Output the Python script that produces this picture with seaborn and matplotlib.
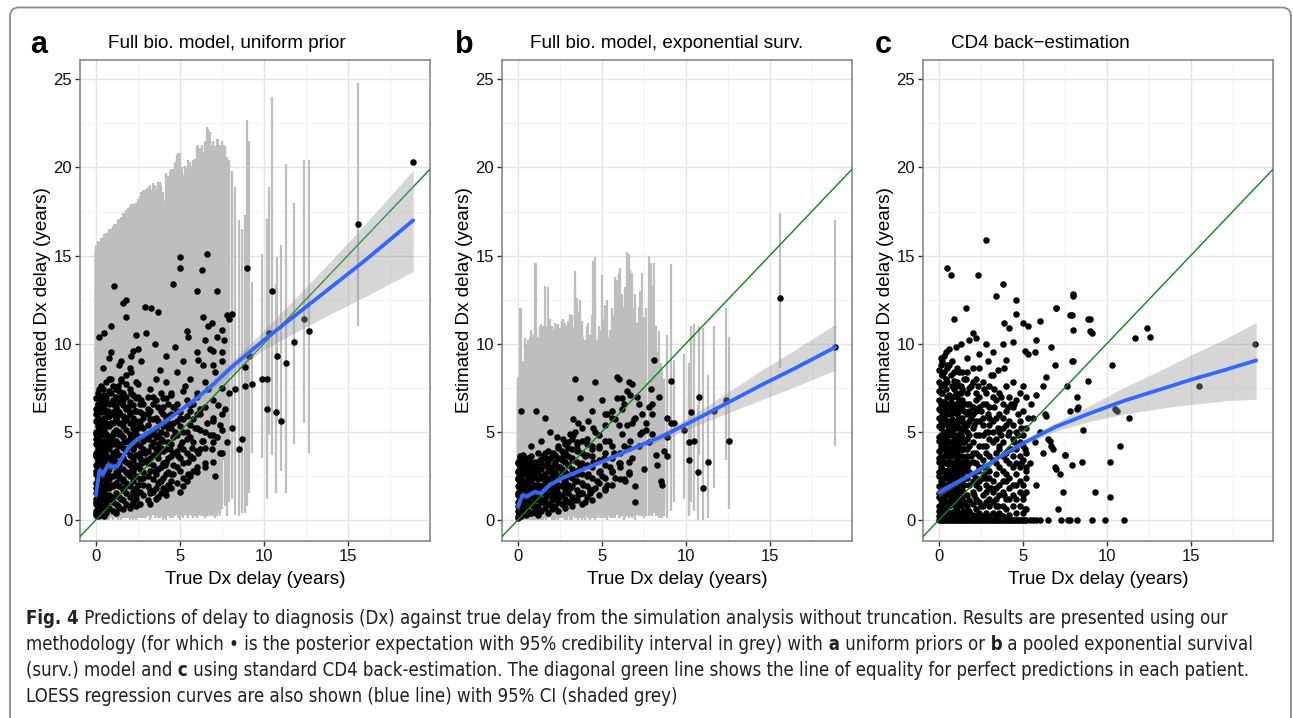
import numpy as np
import matplotlib
matplotlib.use("Agg")
import matplotlib.pyplot as plt
import seaborn as sns
from matplotlib import font_manager as fm
from matplotlib.patches import FancyBboxPatch

# ---------------- data (in tenths of a year) ----------------
# Panel a: Full bio. model, uniform prior  (true delay, posterior expectation, 95% CrI low/high)
A_X = [0, 0, 0, 1, 1, 1, 2, 2, 0, 1,
       0, 0, 1, 1, 2, 2, 3, 3, 0, 2,
       3, 3, 4, 4, 4, 5, 5, 5, 6, 6,
       4, 5, 6, 6, 7, 7, 7, 8, 8, 9,
       9, 9, 10, 10, 10, 11, 11, 12, 12, 13,
       13, 13, 14, 14, 15, 15, 16, 16, 17, 17,
       18, 18, 19, 19, 20, 20, 21, 21, 22, 22,
       23, 23, 24, 24, 25, 25, 26, 27, 28, 29,
       30, 31, 32, 33, 34, 35, 36, 37, 38, 38,
       39, 40, 41, 42, 43, 44, 45, 46, 47, 48,
       49, 50, 51, 52, 53, 54, 55, 56, 57, 58,
       59, 60, 61, 62, 63, 64, 65, 66, 67, 68,
       69, 70, 71, 72, 73, 74, 75, 77, 79, 81,
       2, 5, 9, 16, 18, 18, 11, 29, 24, 33,
       37, 30, 46, 50, 50, 54, 60, 63, 66, 72,
       8, 14, 22, 27, 35, 42, 47, 55, 61, 68,
       64, 69, 72, 75, 78, 79, 81, 76, 70, 67,
       40, 45, 50, 55, 60, 64, 70, 71, 74, 78,
       83, 85, 87, 89, 89, 90, 91, 93, 99, 102,
       102, 103, 105, 107, 108, 110, 113, 118, 124, 127,
       156, 189, 0, 1, 3, 6, 8, 12, 15, 20,
       0, 1, 2, 3, 4, 5, 6, 7, 8, 9,
       10, 11, 12, 13, 14, 15, 16, 17, 18, 19,
       20, 21, 22, 23, 24, 25, 26, 27, 28, 29,
       0, 0, 1, 2, 3, 4, 5, 7, 9, 11]
A_Y = [3, 10, 18, 6, 14, 24, 9, 17, 28, 33,
       38, 46, 42, 55, 50, 62, 45, 70, 60, 74,
       8, 20, 12, 27, 36, 16, 31, 58, 22, 40,
       52, 66, 48, 78, 6, 26, 62, 14, 44, 32,
       55, 72, 10, 38, 66, 20, 50, 30, 58, 8,
       42, 76, 24, 60, 12, 48, 34, 68, 18, 56,
       40, 82, 26, 64, 8, 46, 36, 72, 16, 54,
       30, 62, 44, 78, 20, 52, 38, 68, 24, 48,
       34, 60, 15, 42, 70, 28, 52, 38, 85, 22,
       46, 64, 31, 17, 55, 40, 72, 26, 50, 62,
       36, 58, 44, 24, 76, 50, 33, 65, 41, 28,
       52, 70, 38, 60, 45, 88, 32, 55, 74, 48,
       40, 58, 84, 47, 65, 54, 95, 63, 72, 52,
       104, 106, 110, 123, 115, 125, 133, 121, 105, 120,
       118, 106, 134, 149, 143, 107, 130, 142, 151, 130,
       92, 88, 96, 90, 100, 93, 98, 104, 91, 97,
       115, 112, 104, 108, 116, 114, 117, 102, 96, 110,
       18, 22, 16, 26, 30, 45, 48, 25, 38, 44,
       74, 40, 46, 76, 87, 143, 93, 77, 80, 80,
       63, 106, 130, 61, 93, 56, 89, 101, 114, 107,
       168, 203, 50, 66, 64, 70, 80, 74, 80, 86,
       5, 27, 40, 55, 19, 42, 11, 35, 59, 20,
       48, 35, 64, 28, 50, 70, 22, 44, 58, 32,
       60, 28, 40, 50, 14, 70, 56, 32, 60, 38,
       12, 36, 64, 4, 52, 68, 2, 40, 46, 60]
A_LO = [0, 0, 0, 0, 0, 1, 0, 0, 1, 2,
        1, 1, 1, 2, 1, 2, 1, 3, 2, 3,
        0, 0, 0, 1, 1, 0, 1, 2, 1, 1,
        2, 3, 2, 3, 0, 1, 2, 0, 1, 1,
        2, 3, 0, 1, 2, 1, 2, 1, 2, 0,
        1, 3, 1, 2, 0, 2, 1, 3, 1, 2,
        1, 3, 1, 2, 0, 2, 1, 3, 0, 2,
        1, 2, 1, 3, 1, 2, 1, 2, 1, 2,
        1, 2, 0, 1, 3, 1, 2, 1, 3, 1,
        2, 2, 1, 0, 2, 1, 3, 1, 2, 3,
        1, 2, 2, 1, 3, 2, 1, 3, 2, 1,
        2, 3, 2, 3, 2, 4, 1, 2, 3, 2,
        3, 3, 5, 2, 4, 3, 6, 8, 10, 12,
        30, 32, 35, 45, 40, 45, 50, 42, 35, 40,
        40, 36, 48, 55, 52, 35, 45, 50, 60, 48,
        20, 18, 22, 20, 25, 22, 24, 28, 20, 24,
        40, 38, 35, 36, 42, 40, 45, 34, 30, 36,
        0, 1, 0, 1, 1, 2, 2, 1, 2, 2,
        3, 2, 4, 4, 10, 8, 15, 38, 35, 24,
        12, 48, 37, 15, 56, 28, 15, 43, 55, 38,
        110, 203, 2, 3, 3, 3, 4, 3, 4, 4,
        0, 1, 1, 2, 0, 1, 0, 1, 2, 1,
        1, 1, 2, 1, 1, 3, 1, 1, 2, 1,
        2, 1, 1, 2, 0, 3, 2, 1, 2, 1,
        0, 1, 2, 0, 1, 2, 0, 1, 1, 2]
A_HI = [132, 154, 150, 152, 155, 153, 150, 156, 154, 155,
        155, 154, 156, 158, 155, 157, 156, 158, 156, 157,
        155, 158, 157, 159, 160, 158, 160, 161, 160, 161,
        160, 161, 162, 162, 161, 162, 163, 162, 163, 164,
        164, 165, 164, 166, 167, 166, 167, 168, 168, 168,
        169, 170, 171, 170, 172, 171, 173, 172, 173, 174,
        175, 176, 176, 177, 177, 178, 178, 179, 178, 179,
        178, 179, 180, 179, 181, 182, 184, 186, 187, 187,
        188, 189, 190, 187, 191, 189, 188, 190, 192, 191,
        190, 186, 181, 183, 195, 198, 199, 199, 203, 207,
        208, 160, 200, 196, 201, 199, 201, 203, 201, 204,
        205, 210, 213, 211, 210, 209, 215, 218, 222, 220,
        210, 207, 212, 208, 216, 213, 215, 212, 204, 195,
        154, 162, 165, 174, 176, 176, 168, 186, 180, 187,
        192, 188, 196, 208, 205, 199, 212, 213, 223, 216,
        164, 171, 179, 184, 190, 197, 202, 204, 208, 212,
        209, 212, 208, 214, 206, 204, 198, 213, 211, 218,
        184, 190, 196, 198, 203, 206, 215, 210, 212, 206,
        189, 170, 165, 173, 168, 227, 215, 135, 151, 171,
        130, 189, 240, 134, 149, 156, 202, 180, 204, 204,
        248, 203, 153, 156, 160, 163, 165, 168, 172, 178,
        150, 152, 156, 158, 159, 160, 161, 162, 163, 164,
        165, 166, 167, 168, 170, 171, 172, 173, 174, 175,
        176, 177, 178, 179, 180, 181, 182, 183, 185, 186,
        148, 153, 155, 151, 156, 158, 157, 162, 164, 166]
# further panel-a points inside the dense core (their intervals are hidden in the grey curtain):
# true delay (tenths) -> estimates (tenths) at that delay
A_CORE_X = [0, 1, 2, 3, 5, 6, 8, 10, 12, 14, 16, 18, 20, 22, 24, 26, 28, 31, 34, 37, 40, 43, 46, 50, 54, 58, 62,
            4, 9, 15, 21, 25, 32, 36, 39, 42, 45, 48, 52, 56, 60, 65, 70, 75]
A_CORE_Y = [[4, 9, 15, 21, 26, 31, 37, 43, 49, 56, 63, 69],
            [2, 7, 12, 19, 23, 29, 34, 40, 47, 53, 58, 65, 72],
            [5, 11, 16, 22, 27, 32, 39, 45, 51, 57, 64, 70],
            [3, 8, 14, 19, 25, 30, 36, 42, 48, 54, 61, 67, 76],
            [6, 11, 17, 23, 28, 34, 39, 45, 51, 57, 63, 71],
            [4, 9, 14, 20, 25, 31, 37, 43, 49, 55, 61, 68],
            [7, 12, 18, 23, 29, 35, 41, 47, 53, 59, 66, 73],
            [5, 13, 19, 25, 31, 36, 43, 49, 55, 61, 68, 76],
            [4, 9, 15, 21, 27, 33, 39, 45, 51, 57, 63, 70],
            [7, 13, 19, 25, 31, 37, 43, 49, 55, 61, 67, 73],
            [6, 11, 17, 23, 29, 35, 41, 47, 53, 59, 65, 72],
            [9, 15, 21, 27, 33, 39, 45, 51, 57, 63, 70, 77],
            [7, 13, 19, 25, 31, 37, 43, 49, 55, 61, 67, 74],
            [10, 16, 22, 28, 34, 40, 46, 52, 58, 65, 71],
            [8, 12, 18, 25, 31, 37, 43, 49, 56, 62, 69],
            [9, 16, 23, 29, 35, 42, 47, 54, 61, 66],
            [14, 20, 27, 33, 40, 45, 52, 58, 66],
            [11, 19, 25, 32, 39, 46, 54, 63, 70],
            [16, 23, 31, 37, 44, 50, 57, 66],
            [13, 21, 29, 35, 43, 48, 56, 64],
            [24, 32, 39, 45, 53, 60, 69],
            [20, 27, 35, 44, 52, 59, 66],
            [31, 38, 47, 55, 64],
            [28, 35, 42, 53, 61],
            [22, 38, 46, 59, 68],
            [35, 44, 57, 66],
            [40, 51, 63],
            [74, 86],
            [80, 95],
            [79, 90],
            [84, 93],
            [77, 97],
            [9, 17, 28, 35, 48, 57, 62, 74],
            [12, 18, 26, 40, 47, 58, 68, 80],
            [15, 22, 30, 41, 50, 62, 72],
            [14, 26, 33, 40, 49, 57, 69, 78],
            [18, 26, 36, 43, 52, 60, 71],
            [21, 30, 39, 48, 56, 66, 84],
            [19, 32, 40, 50, 57, 73, 90],
            [25, 36, 47, 54, 62, 80],
            [27, 39, 52, 60, 72, 95],
            [30, 41, 50, 64, 78, 102],
            [33, 44, 56, 68, 88],
            [38, 51, 60, 75, 90]]

# Panel b: Full bio. model, exponential surv.
B_X = [0, 0, 0, 0, 1, 1, 1, 2, 2, 3,
       0, 1, 2, 3, 3, 4, 4, 5, 5, 6,
       6, 7, 7, 8, 8, 9, 9, 10, 11, 12,
       12, 13, 13, 14, 15, 15, 16, 17, 18, 19,
       20, 20, 21, 22, 22, 23, 24, 24, 25, 26,
       27, 28, 29, 30, 31, 32, 33, 34, 35, 36,
       37, 38, 39, 40, 41, 42, 43, 44, 45, 46,
       47, 48, 49, 50, 51, 52, 53, 54, 55, 56,
       57, 58, 59, 60, 61, 62, 63, 64, 65, 66,
       67, 68, 69, 70, 71, 72, 73, 75, 76, 78,
       79, 80, 80, 81, 82, 83, 84, 85, 86, 87,
       89, 89, 89, 91, 91, 93, 99, 102, 102, 103,
       105, 107, 108, 110, 113, 117, 124, 126, 156, 189,
       2, 11, 16, 19, 8, 14, 23, 27, 31, 35,
       0, 1, 3, 4, 6, 9, 11, 14, 17, 21,
       10, 13, 16, 19, 23, 26, 29, 32, 35, 38,
       40, 43, 46, 50, 53, 56, 60, 63, 66, 70,
       34, 36, 42, 45, 48, 52, 58, 62, 68, 74,
       59, 60, 63, 65, 67, 68, 72, 74, 76, 78,
       34, 46, 37, 33, 44, 52, 56, 62, 70, 80]
B_Y = [2, 8, 15, 24, 5, 12, 20, 28, 10, 18,
       32, 36, 30, 6, 26, 14, 34, 9, 22, 30,
       12, 4, 26, 18, 33, 8, 24, 14, 30, 20,
       6, 16, 32, 25, 10, 36, 22, 14, 30, 19,
       8, 28, 38, 16, 33, 24, 12, 42, 30, 20,
       36, 10, 26, 44, 18, 34, 48, 22, 40, 14,
       30, 52, 20, 36, 46, 26, 17, 40, 33, 50,
       22, 42, 28, 68, 35, 18, 60, 45, 30, 62,
       38, 24, 81, 54, 32, 69, 42, 22, 54, 78,
       45, 35, 57, 10, 70, 42, 49, 29, 51, 44,
       74, 66, 49, 91, 37, 31, 70, 22, 20, 39,
       36, 47, 58, 79, 55, 55, 51, 44, 34, 61,
       45, 27, 70, 18, 33, 62, 68, 45, 126, 98,
       62, 62, 58, 50, 42, 45, 47, 46, 49, 43,
       27, 31, 14, 28, 35, 29, 4, 11, 24, 13,
       26, 34, 38, 35, 18, 28, 16, 10, 26, 15,
       10, 15, 18, 25, 20, 28, 32, 23, 27, 19,
       50, 55, 56, 52, 48, 54, 57, 49, 55, 50,
       69, 80, 66, 73, 71, 77, 66, 60, 55, 64,
       80, 78, 69, 57, 62, 60, 58, 63, 58, 60]
B_LO = [0, 0, 0, 1, 0, 0, 1, 1, 0, 0,
        1, 1, 1, 0, 1, 0, 1, 0, 1, 1,
        0, 0, 1, 0, 1, 0, 1, 0, 1, 1,
        0, 0, 1, 1, 0, 1, 1, 0, 1, 1,
        0, 1, 1, 0, 1, 1, 0, 2, 1, 1,
        1, 0, 1, 2, 0, 1, 2, 1, 2, 0,
        1, 2, 1, 1, 2, 1, 0, 1, 1, 2,
        1, 2, 1, 3, 1, 1, 2, 2, 1, 2,
        1, 1, 3, 2, 1, 3, 2, 1, 2, 3,
        2, 1, 2, 0, 3, 2, 2, 1, 2, 2,
        3, 2, 2, 4, 2, 2, 1, 1, 1, 2,
        4, 1, 10, 15, 5, 10, 12, 3, 2, 10,
        5, 0, 37, 0, 1, 18, 34, 6, 86, 42,
        20, 18, 16, 15, 10, 12, 14, 13, 15, 12,
        1, 1, 0, 1, 1, 1, 0, 0, 1, 0,
        1, 1, 2, 1, 1, 1, 0, 0, 1, 0,
        0, 0, 0, 1, 0, 1, 1, 0, 1, 0,
        2, 2, 2, 2, 2, 2, 3, 2, 3, 2,
        3, 4, 3, 3, 4, 4, 3, 2, 2, 3,
        10, 8, 5, 3, 4, 5, 4, 5, 5, 6]
B_HI = [52, 70, 75, 78, 74, 80, 120, 82, 86, 85,
        80, 84, 89, 90, 87, 92, 103, 95, 100, 102,
        98, 104, 99, 101, 106, 103, 105, 146, 108, 104,
        100, 105, 108, 103, 107, 110, 104, 109, 132, 106,
        108, 110, 104, 109, 112, 104, 106, 111, 109, 113,
        114, 112, 110, 113, 115, 116, 109, 133, 110, 112,
        119, 108, 104, 102, 110, 104, 105, 112, 108, 149,
        102, 104, 108, 139, 114, 118, 125, 104, 108, 113,
        116, 115, 136, 140, 143, 118, 112, 132, 125, 151,
        142, 123, 120, 115, 112, 102, 130, 115, 120, 124,
        146, 126, 130, 146, 110, 95, 107, 89, 85, 80,
        75, 105, 90, 145, 83, 91, 94, 89, 70, 110,
        111, 65, 110, 109, 82, 110, 120, 104, 174, 170,
        120, 146, 133, 114, 108, 111, 110, 114, 117, 126,
        81, 84, 88, 93, 97, 103, 102, 106, 110, 108,
        105, 110, 104, 108, 111, 113, 108, 110, 106, 113,
        98, 105, 110, 112, 104, 108, 115, 99, 110, 96,
        106, 118, 112, 147, 110, 113, 138, 128, 135, 118,
        120, 139, 121, 152, 118, 140, 121, 140, 113, 150,
        141, 130, 125, 109, 116, 122, 120, 126, 128, 133]
B_CORE_X = [0, 1, 2, 3, 5, 6, 8, 10, 12, 14, 16, 18, 20, 22, 24, 26, 28, 30, 32, 35, 38, 41, 44, 48, 52, 56, 61, 66]
B_CORE_Y = [[1, 5, 10, 14, 19, 23, 28, 33],
            [3, 7, 12, 17, 21, 26, 30, 35],
            [2, 6, 11, 15, 20, 25, 29, 34],
            [4, 9, 13, 18, 22, 27, 32, 37],
            [3, 7, 12, 16, 21, 26, 31],
            [5, 10, 15, 19, 24, 28, 33],
            [4, 9, 13, 17, 22, 27, 31, 36],
            [6, 11, 16, 20, 25, 29, 33],
            [3, 8, 13, 18, 23, 28, 32, 38],
            [5, 10, 15, 19, 24, 29, 34],
            [7, 12, 17, 21, 26, 31, 35],
            [4, 9, 14, 18, 23, 28, 33, 39],
            [6, 11, 16, 21, 25, 30, 36],
            [8, 13, 18, 23, 27, 32, 37],
            [5, 10, 15, 20, 25, 30, 35, 41],
            [9, 14, 19, 24, 29, 34, 39],
            [7, 12, 17, 22, 27, 33, 38, 43],
            [10, 15, 20, 25, 31, 36, 41],
            [8, 13, 19, 24, 29, 35, 40, 46],
            [11, 17, 22, 28, 33, 39, 44],
            [9, 15, 21, 26, 32, 38, 45],
            [13, 19, 25, 31, 37, 43],
            [11, 17, 24, 30, 36, 42],
            [14, 21, 27, 34, 41],
            [17, 24, 31, 38, 45],
            [20, 27, 35, 42],
            [23, 30, 38],
            [26, 33, 41]]

# Panel c: CD4 back-estimation (true delay, estimate)
C_X = [0, 0, 0, 0, 0, 1, 1, 1, 1, 1,
       0, 0, 1, 2, 2, 2, 2, 3, 3, 3,
       3, 3, 4, 4, 4, 4, 5, 5, 5, 5,
       6, 6, 6, 7, 7, 7, 8, 8, 8, 9,
       9, 9, 10, 10, 10, 11, 11, 12, 12, 13,
       13, 14, 14, 15, 15, 16, 16, 17, 18, 19,
       20, 20, 21, 22, 22, 23, 24, 25, 26, 27,
       28, 29, 30, 30, 31, 32, 33, 34, 35, 36,
       37, 38, 38, 39, 40, 41, 42, 43, 44, 44,
       45, 46, 47, 48, 49, 50, 50, 51, 52, 53,
       54, 56, 57, 58, 60, 62, 63, 65, 67, 69,
       0, 3, 6, 9, 12, 15, 18, 21, 24, 27,
       30, 33, 36, 39, 42, 45, 48, 51, 54, 60,
       65, 73, 77, 78, 82, 91, 99, 110, 188, 155,
       126, 124, 117, 113, 108, 106, 105, 103, 102, 102,
       93, 90, 89, 89, 86, 85, 80, 80, 80, 78,
       82, 83, 76, 78, 74, 71, 70, 75, 79, 79,
       28, 5, 7, 23, 38, 34, 46, 80, 16, 46,
       70, 79, 90, 9, 39, 42, 50, 53, 60, 91,
       1, 4, 6, 10, 13, 18, 20, 22, 28, 32,
       2, 5, 8, 11, 14, 17, 19, 24, 29, 35,
       38, 40, 44, 51, 53, 57, 58, 64, 67, 69,
       55, 58, 62, 64, 66, 68, 70, 72, 75, 82,
       0, 1, 2, 3, 4, 6, 8, 10, 12, 14,
       15, 17, 19, 21, 23, 25, 27, 29, 31, 33,
       35, 37, 39, 41, 43, 45, 47, 49, 51, 52]
C_Y = [5, 15, 25, 35, 45, 8, 18, 30, 40, 52,
       58, 68, 62, 12, 24, 44, 72, 6, 20, 36,
       50, 64, 10, 28, 46, 80, 16, 32, 54, 70,
       4, 26, 48, 12, 38, 60, 20, 44, 76, 30,
       54, 84, 8, 36, 66, 22, 48, 14, 58, 40,
       72, 26, 52, 10, 62, 34, 80, 46, 20, 58,
       38, 86, 14, 48, 68, 28, 56, 8, 42, 74,
       24, 60, 12, 46, 82, 34, 64, 18, 52, 40,
       70, 22, 58, 86, 34, 48, 12, 66, 30, 78,
       44, 20, 60, 36, 52, 14, 76, 40, 28, 58,
       32, 58, 44, 20, 50, 38, 60, 46, 42, 30,
       0, 0, 0, 0, 0, 0, 0, 0, 0, 0,
       0, 0, 0, 0, 0, 0, 0, 0, 0, 0,
       0, 0, 0, 0, 0, 0, 0, 0, 100, 76,
       104, 109, 103, 58, 42, 62, 63, 88, 33, 13,
       16, 107, 114, 79, 51, 33, 128, 108, 90, 116,
       70, 64, 76, 62, 16, 6, 120, 37, 31, 90,
       159, 143, 139, 139, 134, 127, 125, 127, 120, 117,
       120, 116, 114, 114, 112, 109, 112, 110, 113, 106,
       92, 95, 97, 98, 100, 102, 106, 103, 100, 95,
       82, 88, 90, 86, 84, 92, 76, 94, 90, 85,
       100, 91, 101, 96, 94, 95, 102, 81, 98, 88,
       66, 71, 76, 59, 45, 40, 29, 26, 37, 63,
       78, 72, 90, 84, 60, 88, 66, 76, 84, 66,
       44, 66, 36, 54, 76, 62, 26, 50, 18, 74,
       8, 48, 14, 64, 40, 66, 48, 32, 6, 70]
C_CORE_X = [0, 1, 2, 3, 4, 5, 6, 7, 8, 9, 10, 11, 12, 13, 14, 15, 17, 18, 20, 22, 24, 26, 28, 30,
            32, 34, 36, 38, 40, 42, 44, 46, 48, 50, 52]
C_CORE_Y = [[2, 8, 13, 19, 27, 33, 39, 47, 53, 63, 73, 85],
            [4, 11, 16, 22, 28, 36, 42, 48, 56, 66, 76, 88],
            [2, 9, 15, 21, 29, 34, 41, 48, 54, 59, 67, 82],
            [4, 11, 17, 24, 28, 33, 41, 47, 57, 67, 77, 93],
            [2, 6, 14, 20, 26, 32, 38, 42, 50, 56, 63, 74],
            [4, 10, 20, 24, 28, 37, 45, 49, 60, 66, 78, 86],
            [2, 8, 14, 19, 23, 31, 35, 41, 52, 56, 64, 71],
            [4, 9, 16, 22, 29, 33, 44, 49, 55, 64, 67, 82],
            [3, 9, 13, 17, 25, 31, 38, 41, 50, 57, 62, 70],
            [5, 11, 17, 23, 27, 36, 42, 46, 52, 61, 74, 79],
            [2, 11, 16, 21, 28, 32, 40, 45, 52, 56, 63, 72],
            [5, 8, 13, 18, 26, 34, 38, 44, 54, 60, 70, 78],
            [2, 10, 17, 24, 30, 36, 42, 46, 52, 62, 68],
            [4, 8, 14, 20, 27, 33, 45, 50, 56, 64, 76],
            [2, 12, 17, 22, 30, 36, 40, 47, 58, 68, 74],
            [5, 20, 24, 28, 32, 40, 44, 52, 55, 66, 80],
            [2, 8, 14, 24, 30, 36, 40, 50, 54, 60, 72, 84],
            [5, 11, 27, 32, 42, 48, 56, 62, 66, 75],
            [3, 9, 16, 22, 26, 33, 44, 52, 60, 64, 78],
            [2, 6, 12, 20, 24, 32, 38, 56, 62, 72, 80],
            [4, 10, 18, 22, 30, 36, 42, 48, 64, 70, 86],
            [2, 8, 14, 24, 30, 34, 48, 54, 58, 66, 78],
            [4, 10, 16, 20, 30, 38, 42, 50, 66, 72],
            [2, 8, 18, 24, 28, 36, 54, 58, 64, 76],
            [4, 10, 16, 22, 44, 50, 56, 70, 82],
            [2, 8, 12, 26, 32, 38, 46, 58, 68],
            [4, 14, 20, 30, 42, 50, 60, 72],
            [2, 8, 16, 28, 36, 44, 52, 66],
            [6, 12, 22, 26, 38, 54, 62, 76],
            [3, 18, 24, 32, 40, 50, 56, 70],
            [8, 14, 20, 36, 46, 54, 64],
            [4, 12, 26, 32, 40, 50, 68],
            [8, 16, 22, 30, 44, 56, 72],
            [4, 12, 20, 34, 42, 48, 62],
            [6, 16, 24, 30, 38, 52]]
# panel-c patients whose back-estimate is exactly 0 (row along the x axis)
C_ZERO_X = [1, 2, 4, 5, 7, 8, 10, 11, 13, 14, 16, 17, 19, 20, 22, 23, 25, 26, 28, 29, 31, 32, 34, 35,
            37, 38, 40, 41, 43, 44, 46, 47, 49, 50, 52, 56, 58]

# LOESS curves with 95% CI (years)
A_FIT_X = [0, 0.2, 0.4, 0.7, 1.1, 1.3, 1.6, 2.0, 2.5, 3.0, 4.0, 5.0, 6.0, 7.0, 8.0, 10.0, 12.0, 14.0, 16.0, 18.9]
A_FIT_Y = [1.4, 2.8, 2.6, 3.1, 3.0, 3.1, 3.6, 4.2, 4.6, 4.9, 5.5, 6.2, 6.9, 7.7, 8.6, 10.2, 11.7, 13.2, 14.7, 17.0]
A_FIT_LO = [1.0, 2.5, 2.35, 2.9, 2.8, 2.9, 3.45, 4.05, 4.45, 4.75, 5.35, 6.05, 6.7, 7.45, 8.3, 9.65, 10.7, 11.7, 12.65, 14.1]
A_FIT_HI = [1.8, 3.1, 2.85, 3.3, 3.2, 3.3, 3.75, 4.35, 4.75, 5.05, 5.65, 6.35, 7.1, 7.95, 8.9, 10.75, 12.7, 14.7, 16.75, 19.85]

B_FIT_X = [0, 0.25, 0.55, 1.0, 1.35, 1.9, 2.7, 3.7, 5.0, 6.7, 8.5, 10.6, 12.6, 14.6, 16.5, 18.9]
B_FIT_Y = [0.75, 1.4, 1.35, 1.6, 1.5, 2.0, 2.4, 2.8, 3.3, 4.0, 4.7, 5.7, 6.7, 7.7, 8.6, 9.8]
B_FIT_LO = [0.4, 1.2, 1.2, 1.48, 1.4, 1.9, 2.3, 2.7, 3.18, 3.85, 4.48, 5.35, 6.1, 6.85, 7.55, 8.5]
B_FIT_HI = [1.1, 1.6, 1.5, 1.72, 1.6, 2.1, 2.5, 2.9, 3.42, 4.15, 4.92, 6.05, 7.3, 8.55, 9.65, 11.1]

C_FIT_X = [0, 1.2, 2.5, 3.5, 5, 7, 9, 11, 13, 15, 17, 18.9]
C_FIT_Y = [1.55, 2.2, 2.9, 3.5, 4.35, 5.3, 6.05, 6.75, 7.35, 7.95, 8.5, 9.05]
C_FIT_LO = [1.3, 2.05, 2.78, 3.38, 4.2, 5.05, 5.6, 6.0, 6.3, 6.55, 6.75, 6.85]
C_FIT_HI = [1.8, 2.35, 3.02, 3.62, 4.5, 5.55, 6.5, 7.5, 8.4, 9.35, 10.25, 11.2]

LETTERS = ["a", "b", "c"]
TITLES = ["Full bio. model, uniform prior", "Full bio. model, exponential surv.", "CD4 back\u2212estimation"]
X_LABEL = "True Dx delay (years)"
Y_LABEL = "Estimated Dx delay (years)"
X_TICKS = [0, 5, 10, 15]
Y_TICKS = [0, 5, 10, 15, 20, 25]

CAPTION = [
    [("Fig. 4", True), (" Predictions of delay to diagnosis (Dx) against true delay from the simulation analysis without truncation. Results are presented using our", False)],
    [("methodology (for which \u2022 is the posterior expectation with 95% credibility interval in grey) with", False), (" a", True),
     (" uniform priors or", False), (" b", True), (" a pooled exponential survival", False)],
    [("(surv.) model and", False), (" c", True),
     (" using standard CD4 back-estimation. The diagonal green line shows the line of equality for perfect predictions in each patient.", False)],
    [("LOESS regression curves are also shown (blue line) with 95% CI (shaded grey)", False)],
]

# ---------------- style ----------------
sns.set_theme(style="white")
plt.rcParams['font.family'] = ['Liberation Sans', 'DejaVu Sans']
plt.rcParams['axes.unicode_minus'] = True

W, H = 1293, 718
fig = plt.figure(figsize=(W / 100, H / 100), dpi=100)
fig.patch.set_facecolor("white")


def tenths(v):
    return np.asarray(v, dtype=float) / 10.0


def columns(xs, ys):
    px = np.concatenate([[x] * len(col) for x, col in zip(xs, ys)])
    py = np.concatenate([col for col in ys])
    return tenths(px), tenths(py)


a_cx, a_cy = columns(A_CORE_X, A_CORE_Y)
b_cx, b_cy = columns(B_CORE_X, B_CORE_Y)
c_cx, c_cy = columns(C_CORE_X, C_CORE_Y)
c_zx = tenths(C_ZERO_X)

panels = [
    dict(left=80, x=np.r_[tenths(A_X), a_cx], y=np.r_[tenths(A_Y), a_cy],
         ex=tenths(A_X), lo=tenths(A_LO), hi=tenths(A_HI),
         fx=A_FIT_X, fy=A_FIT_Y, flo=A_FIT_LO, fhi=A_FIT_HI, lx=30),
    dict(left=502, x=np.r_[tenths(B_X), b_cx], y=np.r_[tenths(B_Y), b_cy],
         ex=tenths(B_X), lo=tenths(B_LO), hi=tenths(B_HI),
         fx=B_FIT_X, fy=B_FIT_Y, flo=B_FIT_LO, fhi=B_FIT_HI, lx=455),
    dict(left=923, x=np.r_[tenths(C_X), c_cx, c_zx], y=np.r_[tenths(C_Y), c_cy, np.zeros(len(c_zx))],
         ex=None, lo=None, hi=None,
         fx=C_FIT_X, fy=C_FIT_Y, flo=C_FIT_LO, fhi=C_FIT_HI, lx=875),
]

P_TOP, P_BOT, P_W = 60, 541, 350

for i, p in enumerate(panels):
    ax = fig.add_axes([p["left"] / W, 1 - P_BOT / H, P_W / W, (P_BOT - P_TOP) / H])
    ax.set_facecolor("white")
    ax.set_xlim(-0.95, 19.9)
    ax.set_ylim(-1.2, 26.1)
    ax.set_xticks(X_TICKS)
    ax.set_yticks(Y_TICKS)
    ax.set_xticks([2.5, 7.5, 12.5, 17.5], minor=True)
    ax.set_yticks([2.5, 7.5, 12.5, 17.5, 22.5], minor=True)
    ax.grid(which="major", color="#E4E4E4", linewidth=1.0)
    ax.grid(which="minor", color="#F3F3F3", linewidth=0.7)
    ax.set_axisbelow(True)
    for s in ax.spines.values():
        s.set_color("#7F7F7F")
        s.set_linewidth(1.1)
    ax.tick_params(which="major", length=3.6, width=1.0, color="#333333", labelsize=12,
                   labelcolor="#111111", pad=2, bottom=True, left=True)
    ax.tick_params(which="minor", length=0)

    if p["lo"] is not None:
        ax.vlines(p["ex"], p["lo"], p["hi"], colors="#BEBEBE", linewidth=1.6, zorder=2)
    sns.scatterplot(x=p["x"], y=p["y"], ax=ax, color="black", s=22, linewidth=0, zorder=3, legend=False)
    ax.axline((0, 0), (1, 1), color="#0B8A0B", linewidth=1.0, zorder=4)
    ax.fill_between(p["fx"], p["flo"], p["fhi"], color="#999999", alpha=0.4, linewidth=0, zorder=5)
    sns.lineplot(x=p["fx"], y=p["fy"], ax=ax, color="#3366FF", linewidth=2.7, zorder=6,
                 estimator=None, sort=False, legend=False)

    ax.set_xlabel(X_LABEL, fontsize=13.6, labelpad=5, color="black")
    ax.set_ylabel(Y_LABEL, fontsize=13.6, labelpad=2, color="black")

    fig.text((p["left"] + 28) / W, 1 - 48 / H, TITLES[i], fontsize=13.6, ha="left", va="baseline", color="black")
    fig.text(p["lx"] / W, 1 - 53 / H, LETTERS[i], fontsize=22, fontweight="bold", ha="left", va="baseline", color="black")

# ---------------- caption ----------------
ttf = fm.fontManager.ttflist
names = {f.name for f in ttf}
cap_kw = dict(family=["Liberation Sans", "DejaVu Sans"])
if "Liberation Sans Narrow" in names:
    cap_kw = dict(family=["Liberation Sans Narrow", "DejaVu Sans"])
elif any(f.name == "DejaVu Sans" and str(f.stretch) == "condensed" for f in ttf):
    cap_kw = dict(family=["DejaVu Sans"], fontstretch="condensed")
renderer = fig.canvas.get_renderer()


def draw_line(segs, x0, ybase, fs, draw=True):
    xpos = x0
    arts = []
    for txt, bold in segs:
        t = fig.text(xpos / W, 1 - ybase / H, txt, fontsize=fs,
                     fontweight="bold" if bold else "normal", ha="left", va="baseline",
                     color="#231F20", **cap_kw)
        xpos += t.get_window_extent(renderer).width
        arts.append(t)
    if not draw:
        for t in arts:
            t.remove()
    return xpos - x0


w10 = draw_line(CAPTION[0], 26, 624, 10, draw=False)
cap_fs = 10 * 1206 / w10
for k, segs in enumerate(CAPTION):
    draw_line(segs, 26, 624 + 26 * k, cap_fs)

# ---------------- outer rounded frame ----------------
frame = FancyBboxPatch((10 / 100, -0.6), (1281 / 100), (H - 7.5) / 100 + 0.6,
                       boxstyle="round,pad=0,rounding_size=0.09",
                       transform=fig.dpi_scale_trans, fill=False,
                       edgecolor="#8A8A8A", linewidth=1.3, clip_on=False)
fig.add_artist(frame)

fig.savefig("out.png", dpi=100)
